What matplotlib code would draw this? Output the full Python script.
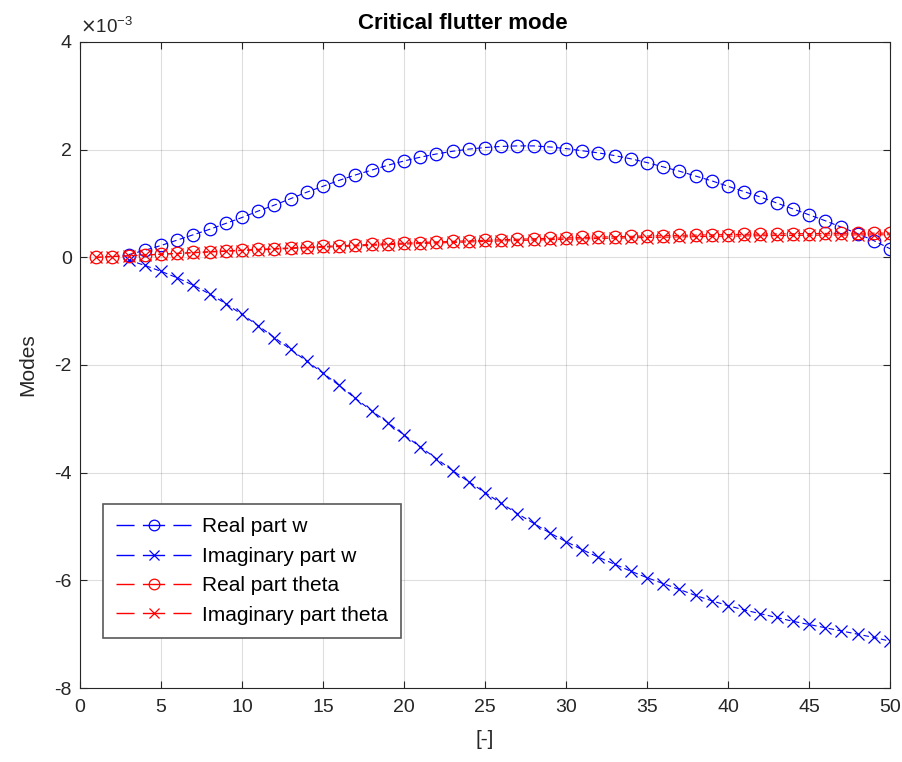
import numpy as np
import matplotlib
matplotlib.use('Agg')
import matplotlib.pyplot as plt
from matplotlib.lines import Line2D
from matplotlib.ticker import FuncFormatter

plt.rcParams['font.family'] = ['Liberation Sans', 'DejaVu Sans']
plt.rcParams['axes.unicode_minus'] = False

# Node index along the wing
x_w = np.arange(3, 51)
x_theta = np.arange(1, 51)

# Mode values, units of 1e-3
real_w = [0.05, 0.13, 0.22, 0.32, 0.42, 0.52, 0.63, 0.74, 0.86, 0.97,
          1.09, 1.21, 1.32, 1.43, 1.53, 1.62, 1.71, 1.79, 1.86, 1.92,
          1.97, 2.01, 2.04, 2.06, 2.07, 2.07, 2.05, 2.02, 1.98, 1.94,
          1.89, 1.83, 1.76, 1.68, 1.60, 1.51, 1.42, 1.32, 1.22, 1.12,
          1.01, 0.90, 0.79, 0.68, 0.56, 0.44, 0.31, 0.16]
imag_w = [-0.05, -0.15, -0.26, -0.38, -0.52, -0.68, -0.86, -1.06, -1.27, -1.49,
          -1.71, -1.93, -2.15, -2.38, -2.62, -2.85, -3.07, -3.30, -3.52, -3.74,
          -3.96, -4.17, -4.37, -4.57, -4.76, -4.94, -5.12, -5.28, -5.43, -5.57,
          -5.70, -5.83, -5.95, -6.06, -6.17, -6.28, -6.38, -6.47, -6.55, -6.62,
          -6.69, -6.76, -6.82, -6.88, -6.94, -7.00, -7.06, -7.13]
real_theta = [0.000, 0.015, 0.030, 0.045, 0.060, 0.075, 0.090, 0.105, 0.120, 0.134,
              0.148, 0.162, 0.176, 0.189, 0.202, 0.215, 0.228, 0.240, 0.252, 0.264,
              0.275, 0.286, 0.297, 0.307, 0.317, 0.327, 0.336, 0.345, 0.353, 0.361,
              0.369, 0.376, 0.383, 0.390, 0.396, 0.402, 0.408, 0.413, 0.418, 0.423,
              0.427, 0.431, 0.435, 0.438, 0.441, 0.444, 0.446, 0.448, 0.449, 0.450]
imag_theta = [0.000, 0.014, 0.028, 0.042, 0.056, 0.070, 0.084, 0.098, 0.112, 0.125,
              0.138, 0.151, 0.164, 0.176, 0.188, 0.200, 0.212, 0.223, 0.234, 0.245,
              0.256, 0.266, 0.276, 0.285, 0.295, 0.304, 0.312, 0.320, 0.328, 0.336,
              0.343, 0.350, 0.356, 0.363, 0.368, 0.374, 0.379, 0.384, 0.389, 0.393,
              0.397, 0.401, 0.404, 0.407, 0.410, 0.413, 0.415, 0.417, 0.418, 0.419]

labels = ['Real part w', 'Imaginary part w', 'Real part theta', 'Imaginary part theta']
colors = ['b', 'b', 'r', 'r']
markers = ['o', 'x', 'o', 'x']
sizes = [9, 8, 9, 8]

fig = plt.figure(figsize=(9.03, 7.62), dpi=100)
ax = fig.add_axes([0.0886, 0.0971, 0.8970, 0.8478])

series = [(x_w, real_w), (x_w, imag_w), (x_theta, real_theta), (x_theta, imag_theta)]
handles = []
for (xs, ys), c, m, ms, lab in zip(series, colors, markers, sizes, labels):
    ax.plot(xs, np.array(ys) * 1e-3, color=c, marker=m, markersize=ms, linestyle='--',
            dashes=(5, 3), linewidth=0.8, markerfacecolor='none', markeredgewidth=0.9)
    # legend handle: dash - marker - dash like the MATLAB legend
    handles.append(Line2D([], [], color=c, marker=m, markersize=ms * 0.85, linestyle='--',
                          dashes=(13, 6, 16, 6, 13, 20), linewidth=1.0, markerfacecolor='none',
                          markeredgewidth=0.9, label=lab))

ax.set_xlim(0, 50)
ax.set_ylim(-8e-3, 4e-3)
ax.set_xticks(np.arange(0, 51, 5))
ax.set_yticks(np.arange(-8e-3, 4.1e-3, 2e-3))
ax.yaxis.set_major_formatter(FuncFormatter(lambda v, p: '%d' % round(v * 1e3)))
ax.text(0.0, 1.008, r'$\times$10$^{\mathregular{-3}}$', transform=ax.transAxes,
        fontsize=13.5, color='0.15', ha='left', va='bottom')

ax.grid(True, color='0.15', alpha=0.15, linewidth=0.8)
ax.tick_params(direction='in', top=True, right=True, labelsize=14, colors='0.15', length=5, pad=6)
ax.tick_params(axis='x', pad=8)
for s in ax.spines.values():
    s.set_color('0.15')
    s.set_linewidth(0.8)

ax.set_title('Critical flutter mode', fontsize=16, fontweight='bold', pad=9, x=0.473)
ax.set_xlabel('[-]', fontsize=15, color='0.15', labelpad=10)
ax.set_ylabel('Modes', fontsize=15, color='0.15', labelpad=12)

leg = ax.legend(handles=handles, loc='lower left', bbox_to_anchor=(0.028, 0.077), fontsize=15,
                handlelength=3.6, handletextpad=0.5, fancybox=False, framealpha=1,
                edgecolor='0.35', borderpad=0.65, labelspacing=0.5, borderaxespad=0)
leg.get_frame().set_linewidth(1.2)

fig.savefig('out.png', dpi=100)
